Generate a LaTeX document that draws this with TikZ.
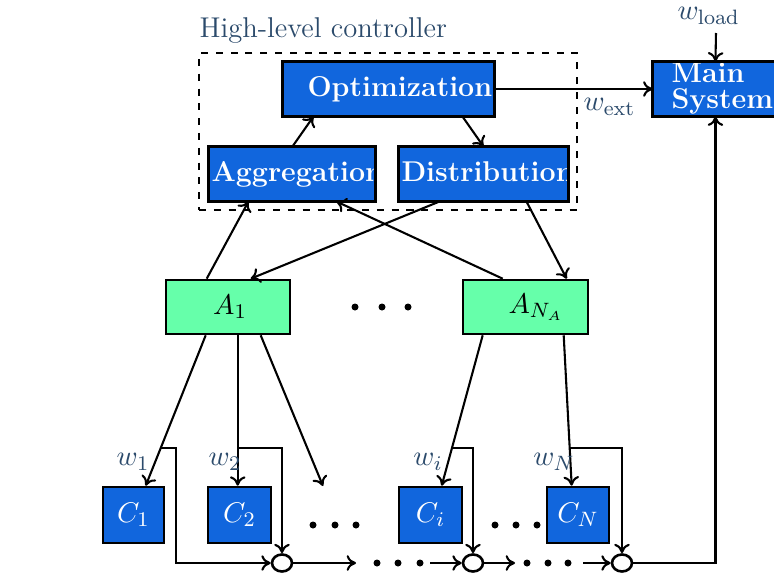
\documentclass[tikz,border=0pt]{standalone}
\usetikzlibrary{arrows.meta,calc,shapes.geometric}
\definecolor{boxblue}{HTML}{1166DD}
\definecolor{agentgreen}{HTML}{66FFAA}
\definecolor{labelink}{HTML}{2B4A6B}
\newcommand\pxu{0.3846pt}
\begin{document}
\begin{tikzpicture}[x=0.3846pt,y=-0.3846pt,
  every node/.style={font=\fontsize{11}{13}\selectfont},
  conn/.style={line width=0.8pt,-{To[length=3.6pt,width=6pt]}},
  blockframe/.style={line width=1pt,draw=black},
  boxsize/.style 2 args={minimum width=#1*\pxu,minimum height=#2*\pxu},
  bluebox/.style={rectangle,fill=boxblue,inner sep=0pt},
  cbox/.style={bluebox,draw=black,line width=1pt,text=white},
  greenbox/.style={rectangle,fill=agentgreen,draw=black,line width=1pt,inner sep=0pt},
  boxtext/.style={text=white,font=\fontsize{11}{13}\selectfont\bfseries,inner sep=0pt,anchor=base west},
  sig/.style={text=labelink,inner sep=0pt},
  sumpt/.style={ellipse,draw=black,fill=white,line width=1pt,minimum width=20*\pxu,minimum height=17*\pxu,inner sep=0pt},
  dot/.style={circle,fill=black,minimum size=7*\pxu,inner sep=0pt}
]
\useasboundingbox (0,0) rectangle (774,579);

% high-level controller blocks
\node[bluebox,boxsize={211}{54}] (opt)  at (388.5,89) {};
\node[bluebox,boxsize={166}{54}] (agg)  at (292,174) {};
\node[bluebox,boxsize={169}{54}] (dis)  at (483.5,174) {};
\node[bluebox,boxsize={140}{54}] (main) at (723,89) {};

\node[boxtext] (optlbl)   at (307,97)  {Optimization};
\node[boxtext] (agglbl)   at (211,182) {Aggregation};
\node[boxtext] (dislbl)   at (401,182) {Distribution};
\node[boxtext] (mainlbl1) at (671,82)  {Main};
\node[boxtext] (mainlbl2) at (671,109) {System};

\foreach \b in {opt,agg,dis,main}
  \draw[blockframe] (\b.south west) rectangle (\b.north east);

\node[draw=black,line width=1pt,dash pattern=on 2.7pt off 3pt,inner sep=0pt,
      boxsize={378}{157}] (hlc) at (388,131.5) {};
\node[text=labelink,anchor=base west,inner sep=0pt] (hlctitle) at (199,38) {High-level controller};

% aggregators
\node[greenbox,boxsize={124}{54}] (a1) at (228,307) {};
\node[greenbox,boxsize={125}{54}] (aN) at (525.5,307) {};
\node[inner sep=0pt] (a1lbl) at (230,307) {$A_1$};
\node[inner sep=0pt] (aNlbl) at (536,307) {$A_{N_A}$};
\foreach \x [count=\k] in {355,382,408}
  \node[dot] (adot\k) at (\x,307) {};

% local controllers
\node[cbox,boxsize={61}{56}] (c1) at (133.5,515) {$C_1$};
\node[cbox,boxsize={63}{56}] (c2) at (239.5,515) {$C_2$};
\node[cbox,boxsize={63}{56}] (ci) at (430.5,515) {$C_i$};
\node[cbox,boxsize={62}{56}] (cN) at (578,515)   {$C_N$};
\foreach \x [count=\k] in {313,335,356}
  \node[dot] (cdotl\k) at (\x,525) {};
\foreach \x [count=\k] in {495,516,537}
  \node[dot] (cdotr\k) at (\x,525) {};

% summing junctions
\node[sumpt] (s1) at (282,563) {};
\node[sumpt] (s2) at (473,563) {};
\node[sumpt] (s3) at (622,563) {};
\foreach \x [count=\k] in {377,398,420}
  \node[dot] (sdotl\k) at (\x,563) {};
\foreach \x [count=\k] in {527,548,568}
  \node[dot] (sdotr\k) at (\x,563) {};

% controller internals and external signals
\draw[conn] ($(agg.north west)+(84,0)$) -- ($(opt.south west)+(31,0)$);
\draw[conn] ($(opt.south west)+(180,0)$) -- ($(dis.north west)+(85,0)$);
\draw[conn] (opt.east) -- (main.west);
\coordinate (loadin) at (716,33);
\draw[conn] (loadin) -- ($(main.north west)+(63,0)$);
\node[sig,anchor=base west] (wload) at (677,20) {$w_{\mathrm{load}}$};
\node[sig,anchor=base west] (wext)  at (583,111) {$w_{\mathrm{ext}}$};

% aggregators <-> controller
\draw[conn] ($(a1.north west)+(42,0)$) -- ($(agg.south west)+(40,0)$);
\draw[conn] ($(dis.south west)+(41,0)$) -- ($(a1.north west)+(86,0)$);
\draw[conn] ($(aN.north west)+(41,0)$) -- ($(agg.south west)+(128,0)$);
\draw[conn] ($(dis.south west)+(128,0)$) -- ($(aN.north west)+(105,0)$);

% aggregators -> local controllers
\coordinate (p1) at ($(a1.south west)+(41,0)$);
\coordinate (q1) at ($(c1.north west)+(44,0)$);
\coordinate (p2) at ($(a1.south west)+(73,0)$);
\coordinate (q2) at ($(c2.north west)+(31,0)$);
\coordinate (p3) at ($(a1.south west)+(96,0)$);
\coordinate (q3) at (323,486);
\coordinate (pi) at ($(aN.south west)+(21,0)$);
\coordinate (qi) at ($(ci.north west)+(44,0)$);
\coordinate (pN) at ($(aN.south west)+(102,0)$);
\coordinate (qN) at ($(cN.north west)+(26,0)$);
\draw[conn] (p1) -- (q1);
\draw[conn] (p2) -- (q2);
\draw[conn] (p3) -- (q3);
\draw[conn] (pi) -- (qi);
\draw[conn] (pN) -- (qN);

% disturbance taps feeding the summing chain
\coordinate (t1) at ($(p1)!0.75!(q1)$);
\coordinate (t2) at ($(p2)!0.75!(q2)$);
\coordinate (ti) at ($(pi)!0.75!(qi)$);
\coordinate (tN) at ($(pN)!0.75!(qN)$);
\draw[conn] (t1) -- ++(15,0) |- (s1);
\draw[conn] (t2) -| (s1);
\draw[conn] (ti) -| (s2);
\draw[conn] (tN) -| (s3);
\node[sig] (w1) at (133,462) {$w_1$};
\node[sig] (w2) at (225,462) {$w_2$};
\node[sig] (wi) at (428,462) {$w_i$};
\node[sig] (wN) at (554,462) {$w_N$};

\coordinate (e1) at (356,563);
\coordinate (b2) at (430,563);
\coordinate (e2) at (515,563);
\coordinate (b3) at (583,563);
\draw[conn] (s1) -- (e1);
\draw[conn] (b2) -- (s2);
\draw[conn] (s2) -- (e2);
\draw[conn] (b3) -- (s3);
\draw[conn] (s3) -| ($(main.south west)+(63,0)$);
\end{tikzpicture}
\end{document}
